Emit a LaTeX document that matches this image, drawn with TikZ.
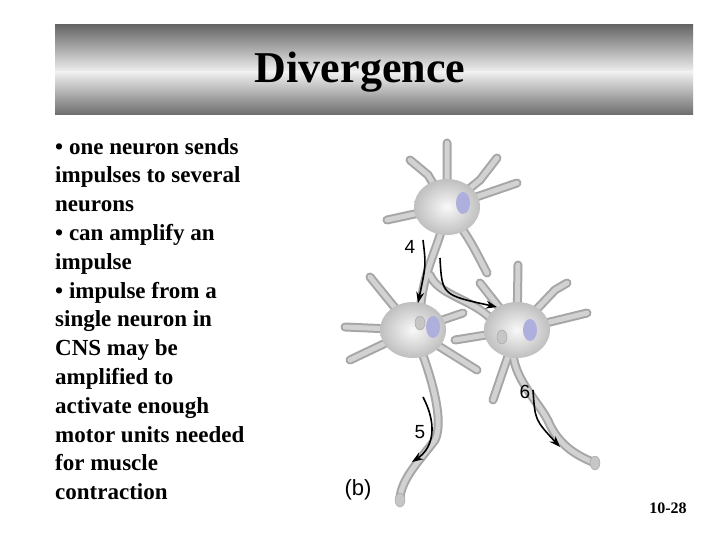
\documentclass[tikz,border=0pt]{standalone}
\usepackage{fontspec}
\setmainfont{Liberation Serif}
\newfontfamily\arial{Liberation Sans}
\usetikzlibrary{arrows.meta}
\begin{document}
\begin{tikzpicture}[x=1pt,y=-1pt,
  outer/.style={draw=gray!70,line width=9pt,line cap=round},
  inner/.style={draw=gray!35,line width=5pt,line cap=round},
  bullet/.style={font=\bfseries\fontsize{23}{28.8}\selectfont,align=left,anchor=north west,inner sep=0pt},
  flow/.style={-{Stealth[length=11pt,width=8pt]},line width=1.6pt},
  numlab/.style={font=\arial\fontsize{19}{19}\selectfont}]
\useasboundingbox (0,0) rectangle (720,540);
\fill[white] (0,0) rectangle (720,540);
% title bar
\shade[top color=gray!80!black,bottom color=gray!12] (55,25) rectangle (693,72);
\shade[top color=gray!12,bottom color=gray!85!black] (55,72) rectangle (693,115);
\node (title) at (360,72) {\bfseries\fontsize{44}{44}\selectfont Divergence};
\node[bullet] (txt) at (55,138) {\textbullet{} one neuron sends\\impulses to several\\neurons\\\textbullet{} can amplify an\\impulse\\\textbullet{} impulse from a\\single neuron in\\CNS may be\\amplified to\\activate enough\\motor units needed\\for muscle\\contraction};
\node (pg) at (668,508) {\bfseries\fontsize{16}{16}\selectfont 10-28};
% neuron coordinates
\coordinate (A) at (447,207); \coordinate (B) at (413,330); \coordinate (C) at (517,330);
\def\processes{%
  (A) -- (447,143) (A) -- (428,175) -- (410,160) (A) -- (480,180) -- (497,158) (A) -- (517,183)
  (A) -- (387,220) (A) .. controls (470,240) .. (487,273)
  (B) -- (370,277) (B) -- (345,327) (B) -- (350,360) (B) -- (477,370) (B) -- (463,313)
  (C) -- (518,265) (C) -- (480,283) (C) -- (555,290) -- (567,283) (C) -- (587,313) (C) -- (493,400) (C) -- (455,340)
  (A) .. controls (440,250) and (420,270) .. (420,323)
  (430,275) .. controls (440,300) and (490,300) .. (502,337)
  (B) .. controls (430,370) and (445,420) .. (435,440) .. controls (420,460) and (400,480) .. (400,500)
  (C) .. controls (500,370) and (540,400) .. (550,425) .. controls (560,445) and (575,455) .. (595,463)}
\draw[outer] \processes;
\draw[inner] \processes;
\foreach \n in {A,B,C}{
  \shade[inner color=gray!5,outer color=gray!50] (\n) ellipse (33pt and 28pt);}
\fill[blue!40!gray!45] (463,203) ellipse (7pt and 11pt);
\fill[blue!40!gray!45] (433,327) ellipse (7pt and 11pt);
\fill[blue!40!gray!45] (530,330) ellipse (7pt and 11pt);
\foreach \p in {(420,323),(502,337),(400,500),(595,463)}{
  \filldraw[fill=gray!45,draw=gray!75] \p ellipse (5pt and 7pt);}
% flow arrows
\coordinate (a4s) at (423,240); \coordinate (a4e) at (418,303);
\draw[flow] (a4s) .. controls (426,265) .. (a4e);
\coordinate (axs) at (440,258); \coordinate (axe) at (497,307);
\draw[flow] (axs) .. controls (442,295) .. (axe);
\coordinate (a5s) at (423,397); \coordinate (a5e) at (412,462);
\draw[flow] (a5s) .. controls (440,430) and (430,450) .. (a5e);
\coordinate (a6s) at (533,390); \coordinate (a6e) at (560,447);
\draw[flow] (a6s) .. controls (535,420) .. (a6e);
\node[numlab] (n4) at (410,247) {4};
\node[numlab] (n5) at (420,432) {5};
\node[numlab] (n6) at (525,392) {6};
\node[font=\arial\fontsize{22}{22}\selectfont] (b) at (358,490) {(b)};
\end{tikzpicture}
\end{document}
